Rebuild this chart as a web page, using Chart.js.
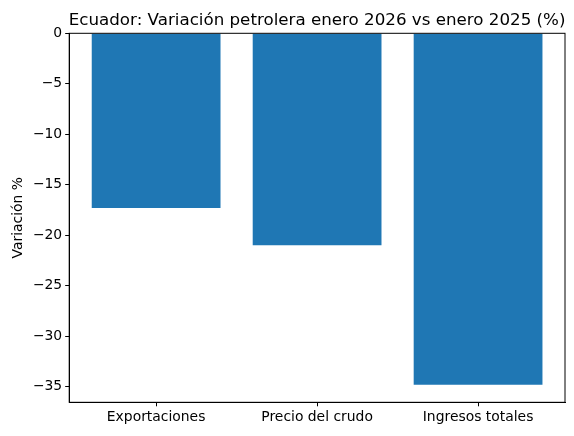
<!DOCTYPE html>
<html>
<head>
<meta charset="utf-8">
<script src="https://cdn.jsdelivr.net/npm/chart.js@4/dist/chart.umd.min.js"></script>
<style>
  html, body { margin: 0; padding: 0; background: #fff; }
  #wrap { width: 574px; height: 436px; }
</style>
</head>
<body>
<div id="wrap"><canvas id="chart" width="574" height="436"></canvas></div>
<script>
// data
const categories = ['Exportaciones', 'Precio del crudo', 'Ingresos totales'];
const variacion = [-17.3, -21.0, -34.8];
const yTicks = [0, -5, -10, -15, -20, -25, -30, -35];

const titleText = 'Ecuador: Variación petrolera enero 2026 vs enero 2025 (%)';
const FONT = '"DejaVu Sans", sans-serif';

// matplotlib style limits: sticky at 0, 5% margin below
const yMin = Math.min(...variacion) * 1.05;
const xMin = -0.4 - 0.14, xMax = (categories.length - 1) + 0.4 + 0.14;

// spines + title centered on the axes
const frame = {
  id: 'frame',
  afterDraw(chart) {
    const {ctx, chartArea: a} = chart;
    ctx.save();
    ctx.strokeStyle = '#000';
    ctx.lineWidth = 1;
    ctx.strokeRect(a.left, a.top, a.right - a.left, a.bottom - a.top);
    ctx.fillStyle = '#000';
    ctx.font = '16.7px ' + FONT;
    ctx.textAlign = 'center';
    ctx.textBaseline = 'alphabetic';
    ctx.fillText(titleText, (a.left + a.right) / 2, a.top - 8.5);
    ctx.restore();
  }
};

new Chart(document.getElementById('chart'), {
  type: 'bar',
  data: {
    datasets: [{
      data: variacion.map((v, i) => ({x: i, y: v})),
      backgroundColor: '#1f77b4',
      borderWidth: 0,
      categoryPercentage: 1,
      barPercentage: 0.8
    }]
  },
  options: {
    responsive: false,
    animation: false,
    layout: { padding: { top: 33.3, right: 9, left: 0, bottom: 0 } },
    plugins: { legend: { display: false }, tooltip: { enabled: false }, title: { display: false } },
    scales: {
      x: {
        type: 'linear',
        min: xMin, max: xMax,
        offset: false,
        afterBuildTicks: s => { s.ticks = categories.map((c, i) => ({value: i})); },
        afterFit: s => { s.height = 436 - 402.3; },
        grid: { offset: false, drawOnChartArea: false, drawTicks: true, tickLength: 4, color: '#000' },
        border: { display: true, color: '#000' },
        ticks: { callback: v => categories[v], color: '#000', padding: 3, maxRotation: 0, autoSkip: false, font: { family: FONT, size: 13.9 } }
      },
      y: {
        min: yMin, max: 0,
        afterBuildTicks: s => { s.ticks = yTicks.map(v => ({value: v})); },
        afterFit: s => { s.width = 69.2; },
        grid: { drawOnChartArea: false, drawTicks: true, tickLength: 4, color: '#000' },
        border: { display: true, color: '#000' },
        title: { display: true, text: 'Variación %', color: '#000', padding: { top: 10, bottom: 4 }, font: { family: FONT, size: 13.9 } },
        ticks: { callback: v => v < 0 ? '\u2212' + Math.abs(v) : String(v), color: '#000', padding: 3, font: { family: FONT, size: 13.9 } }
      }
    }
  },
  plugins: [frame]
});
</script>
</body>
</html>
